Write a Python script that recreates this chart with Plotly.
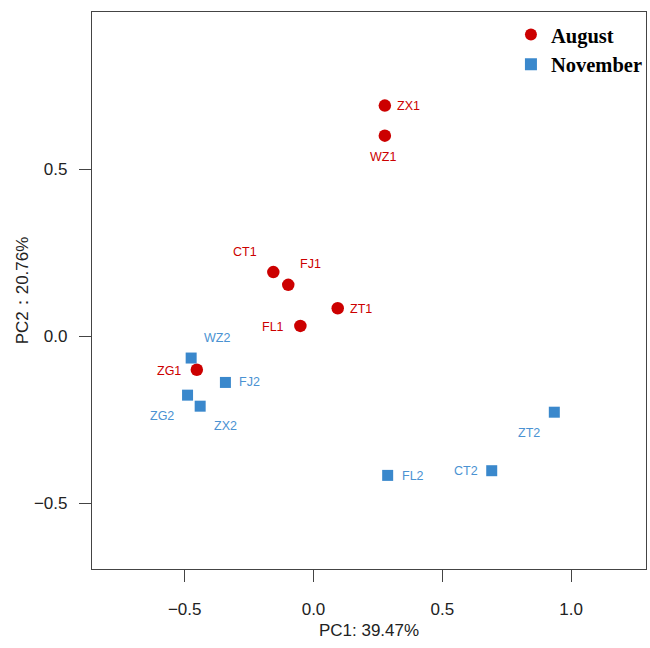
import plotly.graph_objects as go

# ---- data ----
aug_labels = ["ZX1", "WZ1", "CT1", "FJ1", "ZT1", "FL1", "ZG1"]
aug_pc1 = [0.277, 0.277, -0.156, -0.098, 0.094, -0.051, -0.453]
aug_pc2 = [0.690, 0.600, 0.192, 0.154, 0.084, 0.031, -0.100]

nov_labels = ["WZ2", "FJ2", "ZG2", "ZX2", "ZT2", "CT2", "FL2"]
nov_pc1 = [-0.475, -0.342, -0.489, -0.440, 0.935, 0.692, 0.288]
nov_pc2 = [-0.065, -0.138, -0.176, -0.209, -0.227, -0.402, -0.416]

x_ticks = [-0.5, 0.0, 0.5, 1.0]
y_ticks = [-0.5, 0.0, 0.5]

# ---- styles ----
RED = "#CC0000"
BLUE = "#3A88CC"
BLUE_TXT = "#4A92D2"
FONT = "Liberation Sans, Arial, sans-serif"

# label placement: (xanchor, xshift, yshift) in pixels
label_pos = {
    "ZX1": ("left", 10, 0), "WZ1": ("center", -2, -21), "CT1": ("right", -14, 20),
    "FJ1": ("left", 10, 21), "ZT1": ("left", 10, -1), "FL1": ("right", -14, -1),
    "ZG1": ("right", -14, -1),
    "WZ2": ("left", 11, 20), "FJ2": ("left", 12, 0), "ZG2": ("right", -12, -21),
    "ZX2": ("left", 12, -20), "ZT2": ("right", -12, -21), "CT2": ("right", -12, 0),
    "FL2": ("left", 12, -1),
}

fig = go.Figure()
fig.add_trace(go.Scatter(
    x=aug_pc1, y=aug_pc2, mode="markers", name="August",
    marker=dict(symbol="circle", size=12.5, color=RED),
))
fig.add_trace(go.Scatter(
    x=nov_pc1, y=nov_pc2, mode="markers", name="November",
    marker=dict(symbol="square", size=11, color=BLUE),
))

annotations = []
for labels, xs, ys, col in [(aug_labels, aug_pc1, aug_pc2, RED),
                            (nov_labels, nov_pc1, nov_pc2, BLUE_TXT)]:
    for lab, x, y in zip(labels, xs, ys):
        xa, xs_, ys_ = label_pos[lab]
        annotations.append(dict(
            x=x, y=y, xref="x", yref="y", text=lab, showarrow=False,
            xanchor=xa, yanchor="middle", xshift=xs_, yshift=ys_,
            font=dict(family=FONT, size=12.5, color=col),
        ))

fig.update_layout(
    width=650, height=648,
    paper_bgcolor="white", plot_bgcolor="white",
    margin=dict(l=92, r=2, t=12, b=79),
    showlegend=True,
    legend=dict(
        x=1.0035, y=0.995, xanchor="right", yanchor="top",
        bgcolor="rgba(0,0,0,0)", borderwidth=0,
        font=dict(family="Liberation Serif, Times New Roman, serif", size=20.5,
                  color="black", weight="bold"),
        tracegroupgap=0, itemsizing="constant",
    ),
    annotations=annotations,
)

axis_common = dict(
    showgrid=False, zeroline=False,
    showline=True, mirror=True, linecolor="#444444", linewidth=1.2,
    ticks="outside", ticklen=12, tickwidth=1, tickcolor="#444444",
    tickfont=dict(family=FONT, size=17, color="#222222"),
)

fig.update_xaxes(
    range=[-0.860, 1.291], tickvals=x_ticks, ticktext=["\u22120.5", "0.0", "0.5", "1.0"],
    title=dict(text="PC1: 39.47%", font=dict(family=FONT, size=17, color="#222222"), standoff=6),
    ticklabelstandoff=12,
    **axis_common,
)
fig.update_yaxes(
    range=[-0.696, 0.970], tickvals=y_ticks, ticktext=["\u22120.5", "0.0", "0.5"],
    title=dict(text="PC2\uff1a20.76%", font=dict(family=FONT, size=17, color="#222222"), standoff=0),
    ticklabelstandoff=8,
    **axis_common,
)

fig.write_html(
    "out.html",
    config={"displayModeBar": False},
    post_script="document.body.style.margin='0';document.body.style.overflow='hidden';",
)
